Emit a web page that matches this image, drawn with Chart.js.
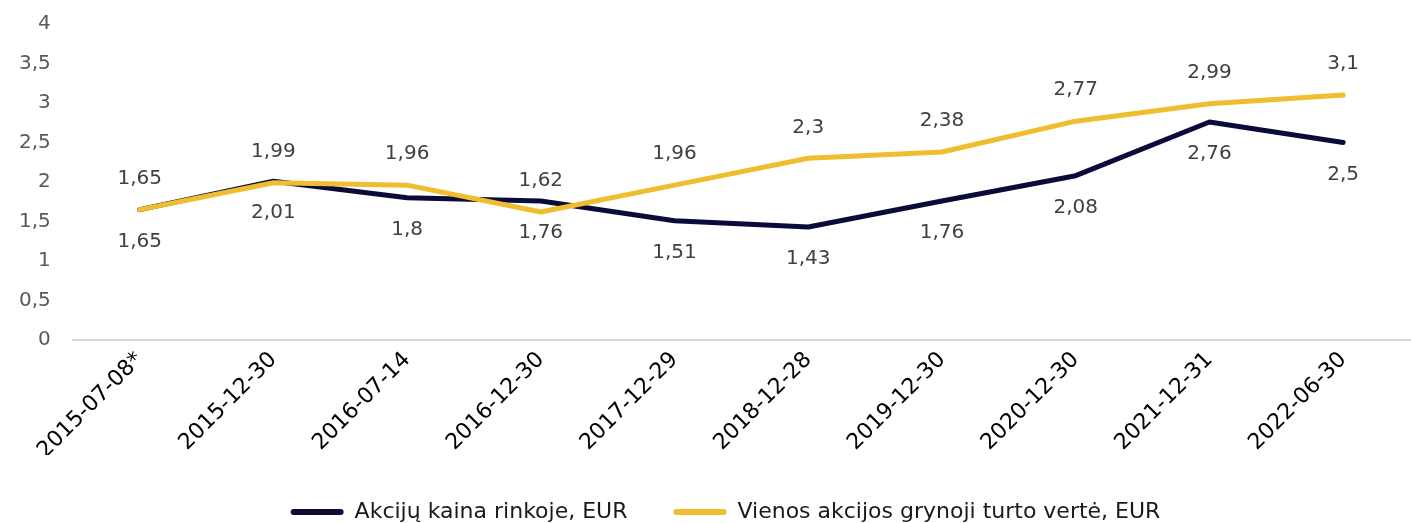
<!DOCTYPE html>
<html>
<head>
<meta charset="utf-8">
<script src="https://cdn.jsdelivr.net/npm/chart.js@4"></script>
<style>
  html, body { margin: 0; padding: 0; background: #fff; }
  #wrap { width: 1411px; height: 523px; position: relative; }
</style>
</head>
<body>
<div id="wrap"><canvas id="chart"></canvas></div>
<script>
// categories and series
const dates = ["2015-07-08*", "2015-12-30", "2016-07-14", "2016-12-30", "2017-12-29",
  "2018-12-28", "2019-12-30", "2020-12-30", "2021-12-31", "2022-06-30"];
const marketPrice = [1.65, 2.01, 1.8, 1.76, 1.51, 1.43, 1.76, 2.08, 2.76, 2.5];
const navPerShare = [1.65, 1.99, 1.96, 1.62, 1.96, 2.3, 2.38, 2.77, 2.99, 3.1];
const seriesNames = ["Akcijų kaina rinkoje, EUR", "Vienos akcijos grynoji turto vertė, EUR"];

const NAVY = "#0b0b3b";
const YELLOW = "#f0bd2f";
const FONT = "'DejaVu Sans', Verdana, sans-serif";

const fmt = v => String(v).replace(".", ",");

// simple value labels: nav above the line, market price below
const valueLabels = {
  id: "valueLabels",
  afterDatasetsDraw(chart) {
    const ctx = chart.ctx;
    ctx.save();
    ctx.font = "20px " + FONT;
    ctx.fillStyle = "#404040";
    ctx.textAlign = "center";
    ctx.textBaseline = "middle";
    chart.data.datasets.forEach((ds, i) => {
      const meta = chart.getDatasetMeta(i);
      const shift = ds.labelSide === "above" ? -31 : 32;
      meta.data.forEach((pt, j) => {
        ctx.fillText(fmt(ds.data[j]), pt.x, pt.y + shift);
      });
    });
    ctx.restore();
  }
};

// legend sits a bit right of centre in the original
const nudgeLegend = {
  id: "nudgeLegend",
  afterLayout(chart) {
    chart.legend.left += 22;
    chart.legend.right += 22;
  }
};

new Chart(document.getElementById("chart"), {
  type: "line",
  data: {
    labels: dates,
    datasets: [
      {
        label: seriesNames[0],
        data: marketPrice,
        borderColor: NAVY,
        backgroundColor: NAVY,
        labelSide: "below",
        order: 1
      },
      {
        label: seriesNames[1],
        data: navPerShare,
        borderColor: YELLOW,
        backgroundColor: YELLOW,
        labelSide: "above",
        order: 0
      }
    ]
  },
  options: {
    responsive: true,
    maintainAspectRatio: false,
    animation: false,
    layout: { padding: { top: 0, right: 1, left: -3, bottom: 0 } },
    elements: {
      line: { borderWidth: 5, tension: 0, borderCapStyle: "round", borderJoinStyle: "round" },
      point: { radius: 0, hoverRadius: 0 }
    },
    scales: {
      x: {
        offset: true,
        grid: { display: false, drawTicks: false },
        border: { display: true, color: "#d9d9d9", width: 2 },
        afterFit(scale) { scale.height = 115; },
        ticks: {
          color: "#000",
          font: { family: FONT, size: 22 },
          maxRotation: 45,
          minRotation: 45,
          padding: 7,
          autoSkip: false
        }
      },
      y: {
        min: 0,
        max: 4,
        grid: { display: false, drawTicks: false },
        border: { display: false },
        afterFit(scale) { scale.paddingTop = 24; },
        ticks: {
          stepSize: 0.5,
          color: "#595959",
          padding: 22,
          font: { family: FONT, size: 20 },
          callback: v => fmt(v)
        }
      }
    },
    plugins: {
      tooltip: { enabled: false },
      legend: {
        position: "bottom",
        maxHeight: 68,
        labels: {
          color: "#1a1a1a",
          font: { family: FONT, size: 22 },
          boxWidth: 53,
          boxHeight: 6,
          padding: 46,
          useBorderRadius: true,
          borderRadius: 3,
          sort: (a, b) => a.datasetIndex - b.datasetIndex,
          generateLabels(chart) {
            const items = Chart.defaults.plugins.legend.labels.generateLabels(chart);
            items.forEach(it => { it.lineWidth = 0; it.fillStyle = it.strokeStyle; });
            return items;
          }
        }
      }
    }
  },
  plugins: [valueLabels, nudgeLegend]
});
</script>
</body>
</html>
